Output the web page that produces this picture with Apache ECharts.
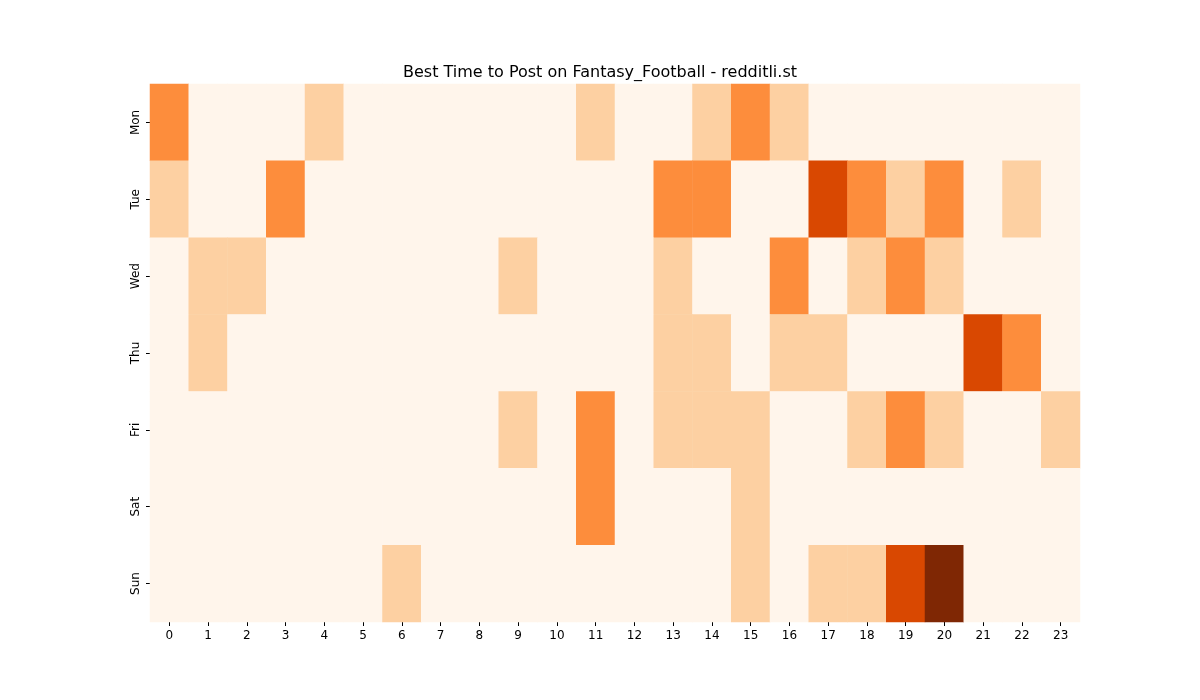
<!DOCTYPE html>
<html><head><meta charset="utf-8">
<script src="https://cdn.jsdelivr.net/npm/echarts@6/dist/echarts.min.js"></script>
<style>html,body{margin:0;padding:0;background:#fff}#c{width:1200px;height:700px}</style>
</head><body><div id="c"></div>
<script>
const hours = Array.from({length:24},(_,i)=>String(i));
const days = ['Mon','Tue','Wed','Thu','Fri','Sat','Sun'];
const mon = [2,0,0,0,1,0,0,0,0,0,0,1,0,0,1,2,1,0,0,0,0,0,0,0];
const tue = [1,0,0,2,0,0,0,0,0,0,0,0,0,2,2,0,0,3,2,1,2,0,1,0];
const wed = [0,1,1,0,0,0,0,0,0,1,0,0,0,1,0,0,2,0,1,2,1,0,0,0];
const thu = [0,1,0,0,0,0,0,0,0,0,0,0,0,1,1,0,1,1,0,0,0,3,2,0];
const fri = [0,0,0,0,0,0,0,0,0,1,0,2,0,1,1,1,0,0,1,2,1,0,0,1];
const sat = [0,0,0,0,0,0,0,0,0,0,0,2,0,0,0,1,0,0,0,0,0,0,0,0];
const sun = [0,0,0,0,0,0,1,0,0,0,0,0,0,0,0,1,0,1,1,3,4,0,0,0];
const rows = [mon,tue,wed,thu,fri,sat,sun];
const data = [];
rows.forEach((r,d)=>r.forEach((v,h)=>data.push([h,d,v])));
const chart = echarts.init(document.getElementById('c'));
chart.setOption({
  animation:false,
  title:{text:'Best Time to Post on Fantasy_Football - redditli.st',left:'center',top:60,textStyle:{fontSize:16,fontWeight:'normal',color:'#000',fontFamily:'DejaVu Sans'}},
  graphic:[{type:'text',left:'center',top:337,style:{text:'redditli.st',fontSize:27,fill:'rgba(150,120,110,0.55)',fontFamily:'DejaVu Sans'}}],
  grid:{left:150,right:120,top:84,bottom:78},
  xAxis:{type:'category',data:hours,axisLine:{show:false},axisTick:{show:true,alignWithLabel:true,length:4,lineStyle:{color:'#000'}},axisLabel:{color:'#000',fontSize:12,fontFamily:'DejaVu Sans'},splitArea:{show:false}},
  yAxis:{type:'category',data:days,inverse:true,axisLine:{show:false},axisTick:{show:true,alignWithLabel:true,length:4,lineStyle:{color:'#000'}},axisLabel:{color:'#000',fontSize:12,rotate:90,fontFamily:'DejaVu Sans',verticalAlign:'bottom',align:'center'}},
  visualMap:{show:false,type:'piecewise',dimension:2,pieces:[
    {value:0,color:'#fff5eb'},{value:1,color:'#fdd0a2'},{value:2,color:'#fd8d3c'},{value:3,color:'#d94801'},{value:4,color:'#7f2704'}]},
  series:[{type:'heatmap',data:data,itemStyle:{borderWidth:0},emphasis:{disabled:true}}]
});
</script></body></html>
